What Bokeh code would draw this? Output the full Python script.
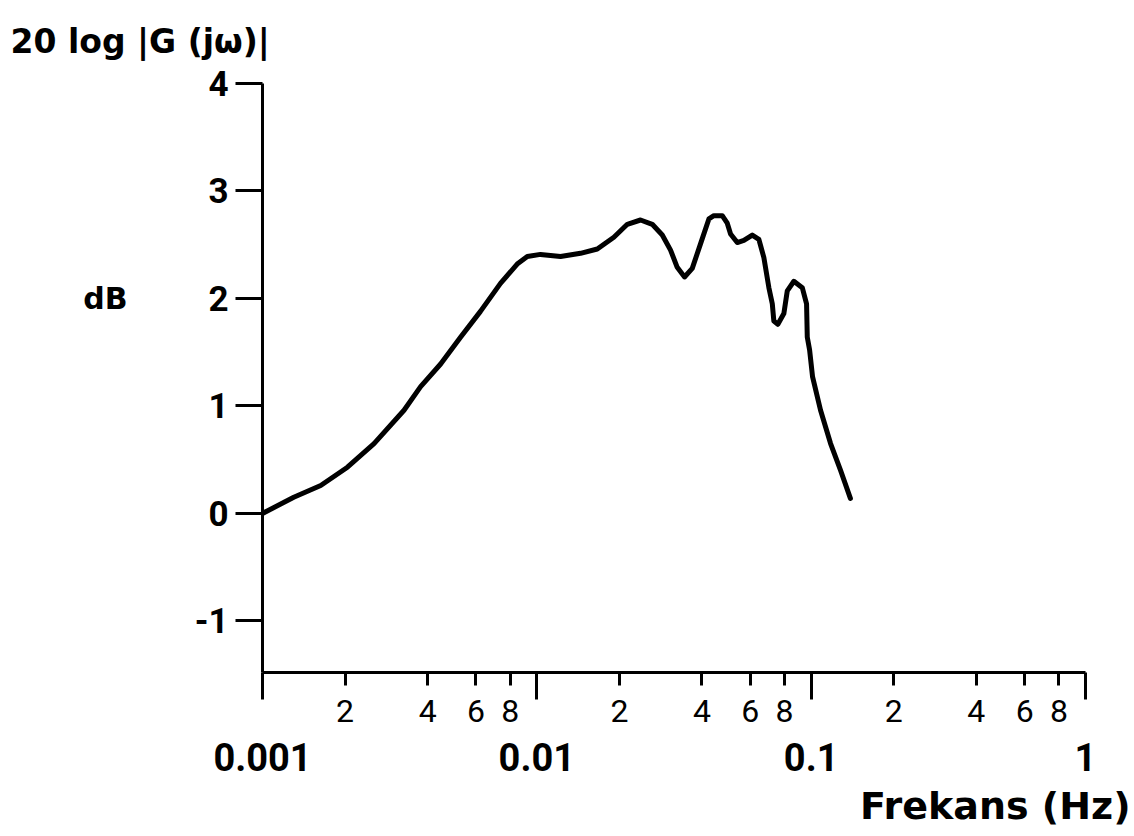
from bokeh.plotting import figure
from bokeh.models import (FixedTicker, Range1d, LogAxis, LinearAxis, Title)
from bokeh.embed import file_html
from bokeh.resources import INLINE

# ---- data ----
freq_hz = [0.00100, 0.00130, 0.00163, 0.00204, 0.00255, 0.00328, 0.00377,
           0.00446, 0.00527, 0.00623, 0.00737, 0.00848, 0.00923, 0.01031,
           0.01220, 0.01443, 0.01661, 0.01909, 0.02137, 0.02388, 0.02635,
           0.02866, 0.03072, 0.03249, 0.03455, 0.03686, 0.03953, 0.04238,
           0.04419, 0.04741, 0.04945, 0.05084, 0.05378, 0.05684, 0.06100,
           0.06447, 0.06724, 0.07012, 0.07216, 0.07311, 0.07562, 0.07952,
           0.08183, 0.08650, 0.09282, 0.09621, 0.09679, 0.09870, 0.10120,
           0.10820, 0.11770, 0.12800, 0.13900]
gain_db = [0.00, 0.15, 0.26, 0.43, 0.65, 0.96, 1.18,
           1.39, 1.64, 1.88, 2.14, 2.32, 2.39, 2.41,
           2.39, 2.42, 2.46, 2.57, 2.69, 2.73, 2.69,
           2.59, 2.45, 2.29, 2.20, 2.28, 2.51, 2.74,
           2.77, 2.77, 2.70, 2.60, 2.52, 2.54, 2.59,
           2.55, 2.38, 2.10, 1.95, 1.79, 1.76, 1.86,
           2.07, 2.16, 2.10, 1.95, 1.64, 1.52, 1.27,
           0.96, 0.65, 0.40, 0.14]

decade_ticks = [0.001, 0.01, 0.1, 1]
decade_labels = ["0.001", "0.01", "0.1", "1"]
minor_mults = [2, 4, 6, 8]
y_ticks = [-1, 0, 1, 2, 3, 4]
y_labels = ["-1", "0", "1", "2", "3", "4"]

title_text = "20 log |G (jω)|"
unit_text = "dB"
unit_at = 2
xlabel_text = "Frekans (Hz)"

# ---- layout ----
W, H = 1134, 836
LEFT, RIGHT, TOP, BOTTOM = 262, 49, 83, 164
Y0, Y1 = -1.48, 4.0

p = figure(width=W, height=H, x_axis_type="log", output_backend="svg",
           toolbar_location=None,
           min_border_left=LEFT, min_border_right=RIGHT,
           min_border_top=TOP, min_border_bottom=BOTTOM)
p.x_range = Range1d(0.001, 1)
p.y_range = Range1d(Y0, Y1)
p.outline_line_color = None
p.grid.visible = False

p.line(freq_hz, gain_db, line_width=5, line_color="black",
       line_join="round", line_cap="round")

minor_pos = [d * m for d in decade_ticks[:-1] for m in minor_mults]
minor_txt = [str(m) for d in decade_ticks[:-1] for m in minor_mults]

# axis 1: axis line, short ticks with 2 4 6 8 labels, long decade ticks
xa = p.xaxis[0]
xa.ticker = FixedTicker(ticks=minor_pos, minor_ticks=decade_ticks)
xa.major_label_overrides = {v: s for v, s in zip(minor_pos, minor_txt)}
xa.axis_line_width = 3
xa.major_tick_line_width = 3
xa.minor_tick_line_width = 3
xa.major_tick_out = 13
xa.major_tick_in = 0
xa.minor_tick_out = 27
xa.minor_tick_in = 0
xa.major_label_standoff = 0
xa.major_label_text_font = "Roboto"
xa.major_label_text_font_size = "32px"
xa.major_label_text_color = "black"

# axis 2: decade labels
xb = LogAxis(ticker=FixedTicker(ticks=decade_ticks, minor_ticks=[]),
             major_label_overrides={v: s for v, s in zip(decade_ticks, decade_labels)},
             axis_line_color=None, major_tick_line_color=None,
             minor_tick_line_color=None, major_tick_out=0, major_tick_in=0,
             major_label_standoff=18,
             major_label_text_font="Roboto", major_label_text_font_style="bold",
             major_label_text_font_size="38px", major_label_text_color="black")
p.add_layout(xb, "below")

# y axis
ya = p.yaxis[0]
ya.ticker = FixedTicker(ticks=y_ticks, minor_ticks=[])
ya.major_label_overrides = {v: s for v, s in zip(y_ticks, y_labels)}
ya.axis_line_width = 3
ya.major_tick_line_width = 3
ya.major_tick_out = 27
ya.major_tick_in = 0
ya.minor_tick_out = 0
ya.minor_tick_in = 0
ya.major_label_standoff = 7
ya.major_label_text_font = "Roboto"
ya.major_label_text_font_style = "bold"
ya.major_label_text_font_size = "35px"
ya.major_label_text_color = "black"

# "dB" unit label as a second left axis with one labelled position
yb = LinearAxis(ticker=FixedTicker(ticks=[unit_at], minor_ticks=[]),
                major_label_overrides={unit_at: unit_text},
                axis_line_color=None, major_tick_line_color=None,
                minor_tick_line_color=None, major_tick_out=0, major_tick_in=0,
                major_label_standoff=64,
                major_label_text_font="DejaVu Sans", major_label_text_font_style="bold",
                major_label_text_font_size="30px", major_label_text_color="black")
p.add_layout(yb, "left")

# title at top left
p.title.text = title_text
p.title.align = "left"
p.title.vertical_align = "top"
p.title.offset = 10 - LEFT
p.title.standoff = 42
p.title.text_font = "DejaVu Sans"
p.title.text_font_style = "bold"
p.title.text_font_size = "33px"
p.title.text_color = "black"

# x axis name at bottom right
p.add_layout(Title(text=xlabel_text, align="right", offset=(W - RIGHT) - 1130,
                   text_font="DejaVu Sans", text_font_style="bold",
                   text_font_size="38px", text_color="black", standoff=16),
             "below")

open("out.html", "w").write(file_html(p, INLINE))
